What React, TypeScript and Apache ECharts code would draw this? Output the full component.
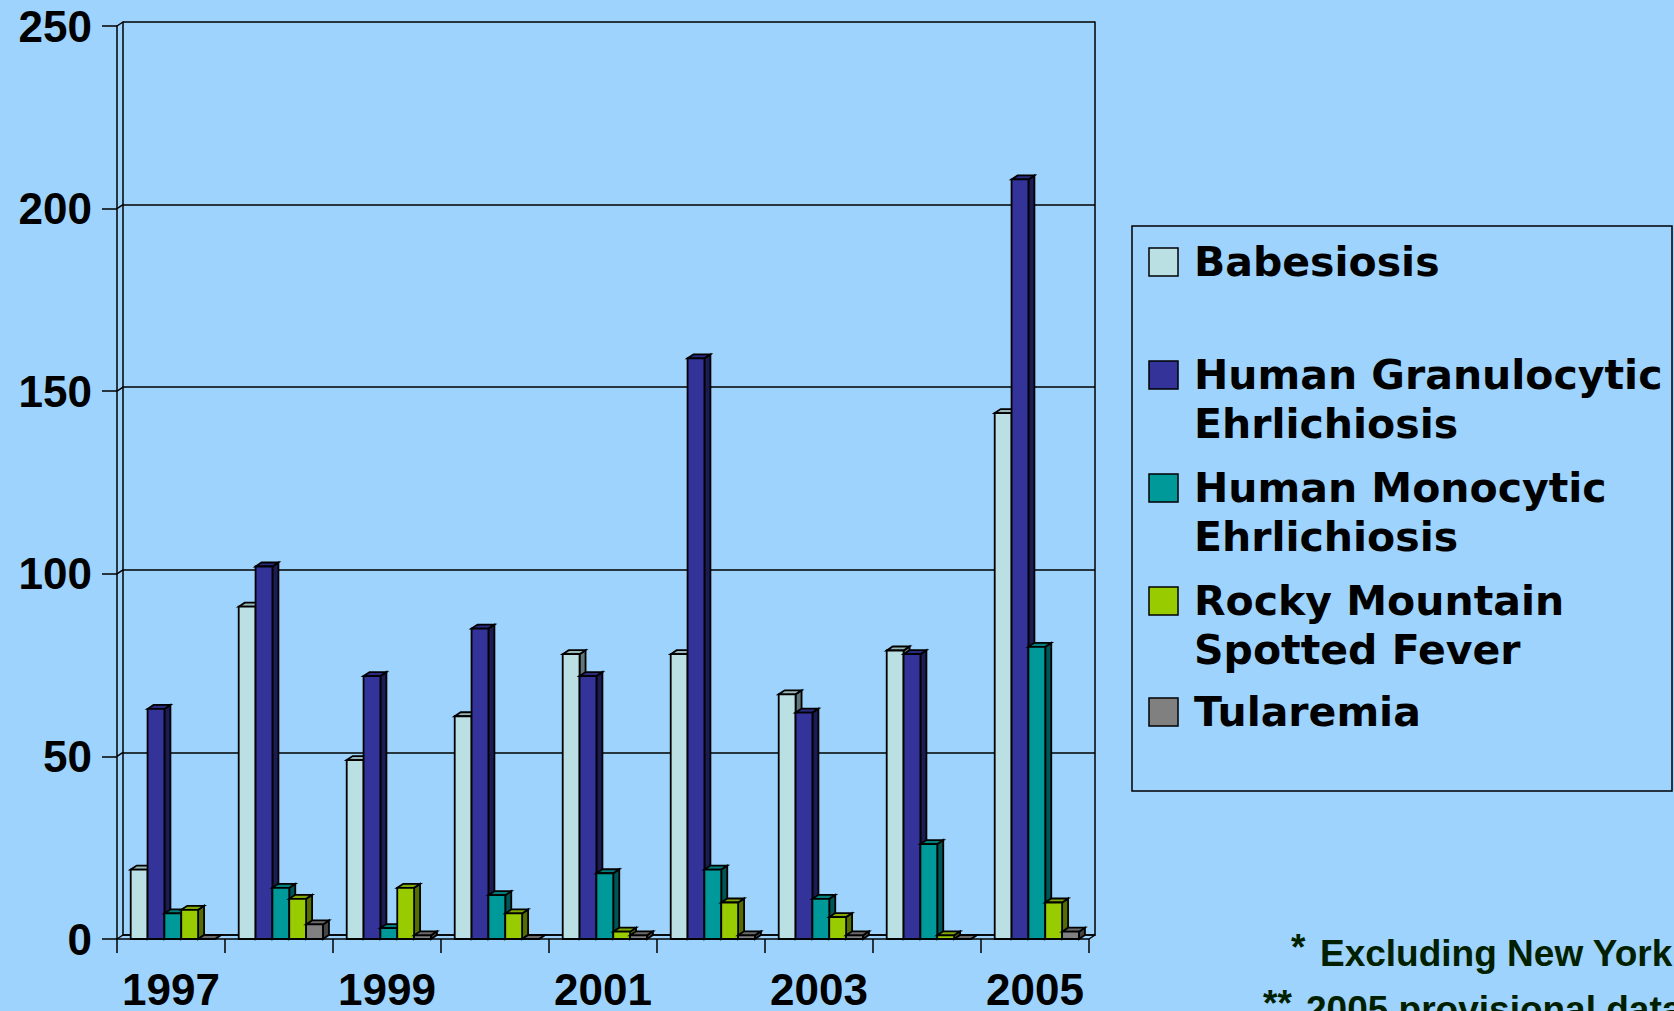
import React, { useEffect, useRef } from "react";
import * as echarts from "echarts";

// ---- data ----
const years = ["1997", "1998", "1999", "2000", "2001", "2002", "2003", "2004", "2005"];
const seriesNames = [
  "Babesiosis",
  "Human Granulocytic Ehrlichiosis",
  "Human Monocytic Ehrlichiosis",
  "Rocky Mountain Spotted Fever",
  "Tularemia",
];
const legendLines = [
  ["Babesiosis"],
  ["Human Granulocytic", "Ehrlichiosis"],
  ["Human Monocytic", "Ehrlichiosis"],
  ["Rocky Mountain", "Spotted Fever"],
  ["Tularemia"],
];
const babesiosis = [19, 91, 49, 61, 78, 78, 67, 79, 144];
const hge = [63, 102, 72, 85, 72, 159, 62, 78, 208];
const hme = [7, 14, 3, 12, 18, 19, 11, 26, 80];
const rmsf = [8, 11, 14, 7, 2, 10, 6, 1, 10];
const tularemia = [0, 4, 1, 0, 1, 1, 1, 0, 2];
const yTicks = [0, 50, 100, 150, 200, 250];
const footnoteMarks = ["*", "**"];
const footnotes = ["Excluding New York", "2005 provisional data"];

// ---- styles ----
const frontColors = ["#BBE0E3", "#333399", "#009999", "#99CC00", "#808080"];
const topColors = ["#9AB8BB", "#2A2A80", "#007F7F", "#7FA800", "#6A6A6A"];
const sideColors = ["#627578", "#1C1C55", "#005555", "#556E00", "#454545"];
const BG = "#9DD3FC";
const DX = 6;
const DY = 4;
const LABEL_FONT = "'Liberation Sans', Arial, Helvetica, sans-serif";
const LEGEND_FONT = "'DejaVu Sans', sans-serif";

const allSeries = [babesiosis, hge, hme, rmsf, tularemia];

function makeBarRender(k: number) {
  return (params: any, api: any) => {
    const cat = api.value(0);
    const val = api.value(1);
    const top = api.coord([cat, val]);
    const base = api.coord([cat, 0]);
    const band = api.size([1, 0])[0];
    const w = band * 0.156;
    const x0 = top[0] - band * 0.373 + k * w;
    const yt = top[1];
    const yb = base[1];
    const stroke = { stroke: "#000", lineWidth: 1.8, lineJoin: "miter" };
    return {
      type: "group",
      children: [
        {
          type: "polygon",
          shape: {
            points: [
              [x0 + w, yt],
              [x0 + w + DX, yt - DY],
              [x0 + w + DX, yb - DY],
              [x0 + w, yb],
            ],
          },
          style: { fill: sideColors[k], ...stroke },
        },
        {
          type: "polygon",
          shape: {
            points: [
              [x0, yt],
              [x0 + DX, yt - DY],
              [x0 + w + DX, yt - DY],
              [x0 + w, yt],
            ],
          },
          style: { fill: topColors[k], ...stroke },
        },
        {
          type: "rect",
          shape: { x: x0, y: yt, width: w, height: Math.max(yb - yt, 0) },
          style: { fill: frontColors[k], ...stroke },
        },
      ],
    };
  };
}

function wallRender(params: any, api: any) {
  const v = api.value(1);
  const p = api.coord([0, v]);
  const cs = params.coordSys;
  const x = cs.x;
  const children: any[] = [
    {
      type: "line",
      shape: { x1: x, y1: p[1], x2: x + DX, y2: p[1] - DY },
      style: { stroke: "#000", lineWidth: 1.5 },
    },
  ];
  if (v === 0) {
    children.push({
      type: "line",
      shape: { x1: x + cs.width, y1: p[1], x2: x + cs.width + DX, y2: p[1] - DY },
      style: { stroke: "#000", lineWidth: 1.5 },
    });
  }
  return { type: "group", children };
}

export default function App() {
  const ref = useRef<HTMLDivElement>(null);

  useEffect(() => {
    if (!ref.current) return;
    const chart = echarts.init(ref.current, undefined, { renderer: "svg" });

    const legendStartY = [262, 375, 488, 601, 712];
    const lineGap = 49;
    const legendGraphics: any[] = [
      {
        type: "rect",
        shape: { x: 1132, y: 226, width: 540, height: 565 },
        style: { fill: "none", stroke: "#000", lineWidth: 1.5 },
        z: 10,
      },
    ];
    legendLines.forEach((lines, i) => {
      legendGraphics.push({
        type: "rect",
        shape: { x: 1149, y: legendStartY[i] - 14, width: 29, height: 28 },
        style: { fill: frontColors[i], stroke: "#000", lineWidth: 1.5 },
        z: 10,
      });
      lines.forEach((ln, j) => {
        legendGraphics.push({
          type: "text",
          x: 1194,
          y: legendStartY[i] + j * lineGap,
          style: {
            text: ln,
            font: `bold 41px ${LEGEND_FONT}`,
            fill: "#000",
            verticalAlign: "middle",
            align: "left",
          },
          z: 10,
        });
      });
    });

    const footY = [953, 1009];
    const markX = [1291, 1263];
    const textX = [1320, 1306];
    footnotes.forEach((t, i) => {
      legendGraphics.push({
        type: "text",
        x: markX[i],
        y: footY[i] - 6,
        style: {
          text: footnoteMarks[i],
          font: `bold 37px ${LABEL_FONT}`,
          fill: "#002000",
          verticalAlign: "middle",
          align: "left",
        },
        z: 10,
      });
      legendGraphics.push({
        type: "text",
        x: textX[i],
        y: footY[i],
        style: {
          text: t,
          font: `bold 37px ${LABEL_FONT}`,
          fill: "#002000",
          verticalAlign: "middle",
          align: "left",
        },
        z: 10,
      });
    });

    const option: any = {
      animation: false,
      backgroundColor: BG,
      grid: [
        { left: 117, top: 26, width: 972, height: 913 },
        { left: 117 + DX, top: 26 - DY, width: 972, height: 913 },
      ],
      xAxis: [
        {
          type: "category",
          gridIndex: 0,
          data: years,
          boundaryGap: true,
          axisLine: { show: true, lineStyle: { color: "#000", width: 1.5 } },
          axisTick: { show: true, interval: 0, length: 14, lineStyle: { color: "#000", width: 1.5 } },
          axisLabel: {
            interval: 1,
            color: "#000",
            fontFamily: LABEL_FONT,
            fontWeight: "bold",
            fontSize: 44,
            margin: 28,
          },
          splitLine: { show: false },
        },
        {
          type: "category",
          gridIndex: 1,
          data: years,
          axisLine: { show: true, lineStyle: { color: "#000", width: 1.5 } },
          axisTick: { show: false },
          axisLabel: { show: false },
          splitLine: { show: false },
        },
      ],
      yAxis: [
        {
          type: "value",
          gridIndex: 0,
          min: 0,
          max: 250,
          interval: 50,
          axisLine: { show: true, lineStyle: { color: "#000", width: 1.5 } },
          axisTick: { show: true, length: 15, lineStyle: { color: "#000", width: 1.5 } },
          axisLabel: {
            color: "#000",
            fontFamily: LABEL_FONT,
            fontWeight: "bold",
            fontSize: 44,
            margin: 25,
          },
          splitLine: { show: false },
        },
        {
          type: "value",
          gridIndex: 1,
          min: 0,
          max: 250,
          interval: 50,
          axisLine: { show: true, lineStyle: { color: "#000", width: 1.5 } },
          axisTick: { show: false },
          axisLabel: { show: false },
          splitLine: { show: true, lineStyle: { color: "#000", width: 1.5 } },
        },
        {
          type: "value",
          gridIndex: 1,
          position: "right",
          min: 0,
          max: 250,
          interval: 50,
          axisLine: { show: true, lineStyle: { color: "#000", width: 1.5 } },
          axisTick: { show: false },
          axisLabel: { show: false },
          splitLine: { show: false },
        },
      ],
      series: [
        {
          type: "custom",
          name: "wall",
          xAxisIndex: 0,
          yAxisIndex: 0,
          renderItem: wallRender,
          data: yTicks.map((v) => [0, v]),
          encode: { x: 0, y: 1 },
          silent: true,
        },
        ...allSeries.map((vals, k) => ({
          type: "custom",
          name: seriesNames[k],
          xAxisIndex: 0,
          yAxisIndex: 0,
          renderItem: makeBarRender(k),
          data: vals.map((v, i) => [i, v]),
          encode: { x: 0, y: 1 },
        })),
      ],
      graphic: legendGraphics,
    };

    chart.setOption(option);
    return () => chart.dispose();
  }, []);

  return (
    <div
      ref={ref}
      style={{ position: "fixed", left: 0, top: 0, width: 1674, height: 1011 }}
    />
  );
}
